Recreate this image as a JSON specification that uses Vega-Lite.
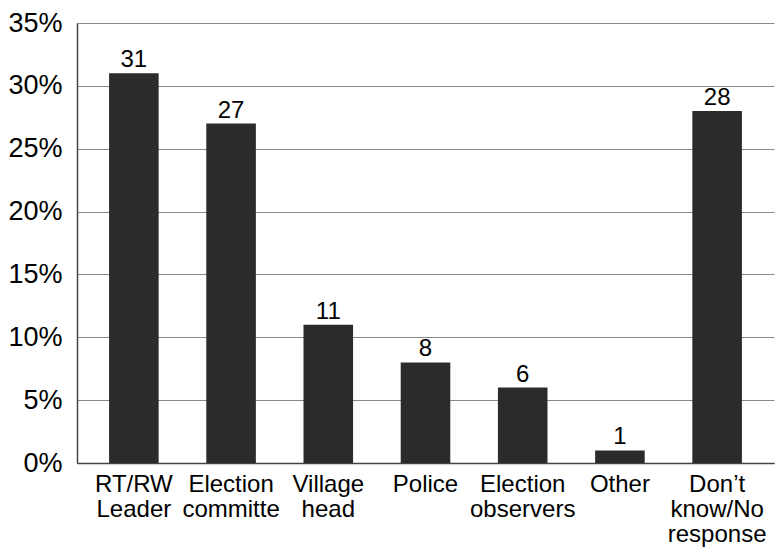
{
  "$schema": "https://vega.github.io/schema/vega-lite/v6.json",
  "width": 697,
  "height": 440,
  "autosize": {"type": "none"},
  "padding": {"left": 77, "top": 23, "right": 8, "bottom": 88},
  "background": "white",
  "config": {
    "view": {"stroke": null},
    "font": "Liberation Sans"
  },
  "data": {
    "values": [
      {"category": "RT/RW\nLeader", "value": 31},
      {"category": "Election\ncommitte", "value": 27},
      {"category": "Village\nhead", "value": 11},
      {"category": "Police", "value": 8},
      {"category": "Election\nobservers", "value": 6},
      {"category": "Other", "value": 1},
      {"category": "Don’t\nknow/No\nresponse", "value": 28}
    ]
  },
  "encoding": {
    "x": {
      "field": "category",
      "type": "nominal",
      "sort": null,
      "scale": {"paddingInner": 0.49, "paddingOuter": 0.33},
      "axis": {
        "title": null,
        "labelAngle": 0,
        "labelExpr": "split(datum.value, '\\n')",
        "labelFont": "Liberation Sans",
        "labelFontSize": 24,
        "labelColor": "#000",
        "labelLineHeight": 25,
        "labelPadding": 9,
        "ticks": false,
        "domainColor": "#444",
        "domainWidth": 1.5,
        "grid": false
      }
    },
    "y": {
      "field": "value",
      "type": "quantitative",
      "scale": {"domain": [0, 35], "nice": false},
      "axis": {
        "title": null,
        "values": [0, 5, 10, 15, 20, 25, 30, 35],
        "labelExpr": "datum.value + '%'",
        "labelFont": "Liberation Sans",
        "labelFontSize": 27,
        "labelColor": "#000",
        "labelPadding": 15,
        "ticks": false,
        "domainColor": "#444",
        "domainWidth": 1.5,
        "grid": true,
        "gridColor": "#888",
        "gridWidth": 1.2
      }
    }
  },
  "layer": [
    {"mark": {"type": "bar", "color": "#2b2b2b"}},
    {
      "mark": {"type": "text", "baseline": "alphabetic", "dy": -6, "fontSize": 24, "font": "Liberation Sans", "color": "#000"},
      "encoding": {"text": {"field": "value", "type": "quantitative"}}
    }
  ]
}
